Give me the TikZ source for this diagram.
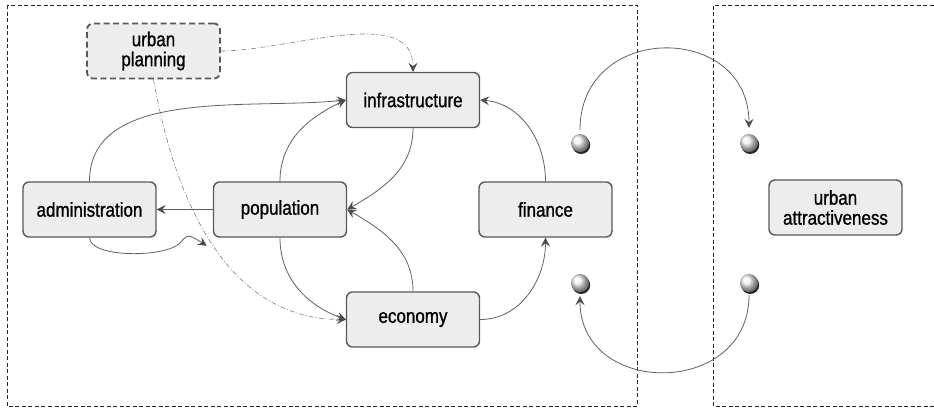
\documentclass[tikz,border=0pt]{standalone}
\usepackage{fontspec}
\setmainfont[FakeStretch=0.85,FakeBold=1]{Liberation Sans}
\usetikzlibrary{arrows.meta}
\begin{document}
\begin{tikzpicture}[x=1pt,y=-1pt,
  box/.style={draw=black!65, line width=1.4pt, fill=black!7, rounded corners=6pt,
    minimum width=133pt, minimum height=55pt, inner sep=0pt, align=center,
    font=\fontsize{20}{20}\selectfont},
  dbox/.style={box, dash pattern=on 6pt off 3.5pt, line width=1.8pt},
  frame/.style={draw=black!85, line width=0.8pt, dash pattern=on 4pt off 2.5pt},
  link/.style={draw=black!62, line width=0.8pt,
    -{Stealth[length=9pt,width=9pt,inset=3.5pt,color=black!70,fill=black!70]}},
  plan/.style={link, draw=black!50, line width=0.6pt,
    dash pattern=on 5pt off 2pt on 1pt off 2pt},
  ballst/.style={circle, minimum size=18pt, inner sep=0pt, shading=ball, ball color=black!6},
  shadowst/.style={fill=black!85}]
\useasboundingbox (0,0) rectangle (934,408);
% frames
\draw[frame] (7,5) rectangle (637,406);
\draw[frame] (940,5) -- (713,5) -- (713,406) -- (940,406);
% nodes
\node[dbox] (up) at (153.5,51) {urban\\planning};
\node[box] (infra) at (413,100) {infrastructure};
\node[box] (admin) at (89.5,209.5) {administration};
\node[box] (pop) at (280,209.5) {population};
\node[box] (econ) at (413,319.5) {economy};
\node[box] (fin) at (545.5,209.5) {finance};
\node[box] (attr) at (835.5,207.5) {urban\\attractiveness};
% balls
\coordinate (c1) at (580,143);
\coordinate (c2) at (749,143);
\coordinate (c3) at (580,283);
\coordinate (c4) at (749,283);
\foreach \c in {c1,c2,c3,c4} {\fill[shadowst] ([shift={(1.2,2)}]\c) circle (9pt);}
\node[ballst] (b1) at (c1) {};
\node[ballst] (b2) at (c2) {};
\node[ballst] (b3) at (c3) {};
\node[ballst] (b4) at (c4) {};
% connectors
\draw[plan] (up.east) to[out=0,in=90,looseness=0.9] (infra.north);
\draw[plan] (up.south) to[out=-80,in=180] (econ.west);
\draw[link] (admin.north) to[out=90,in=186,looseness=0.9] (infra.west);
\draw[link] (pop.north) to[out=90,in=205] (infra.west);
\draw[link] (infra.south) to[out=-90,in=30] (pop.east);
\draw[link] (econ.north) to[out=90,in=-30] (pop.east);
\draw[link] (pop.west) -- (admin.east);
\coordinate (popin) at ([shift={(-6,8)}]pop.south west);
\draw[link] (admin.south) .. controls (90,258) and (165,258) .. (180,243)
   .. controls (188,234) .. (popin);
\draw[link] (pop.south) to[out=-90,in=160] (econ.west);
\draw[link] (econ.east) to[out=0,in=-90] (fin.south);
\draw[link] (fin.north) to[out=90,in=-5] (infra.east);
\draw[link, shorten <=4pt, shorten >=6pt] (b1.north) to[out=90,in=90,looseness=1.7] (b2.north);
\draw[link, shorten <=3pt, shorten >=4pt] (b4.south) to[out=-90,in=-90,looseness=1.6] (b3.south);
\end{tikzpicture}
\end{document}
